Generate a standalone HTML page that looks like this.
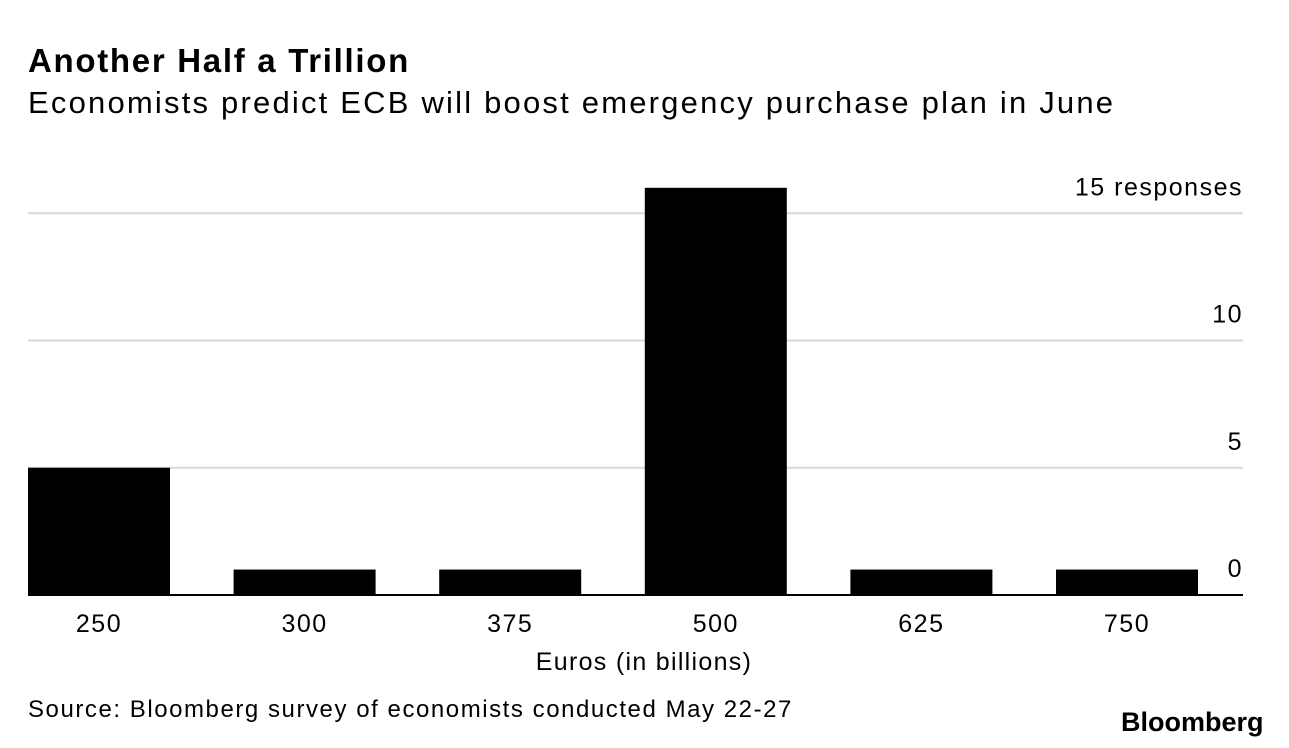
<!DOCTYPE html>
<html><head><meta charset="utf-8"><style>
body{margin:0;background:#fff;font-family:"Liberation Sans",Arial,sans-serif;}
#wrap{position:relative;width:1289px;height:748px;overflow:hidden;}
.t{position:absolute;white-space:nowrap;color:#000;}
</style></head><body>
<div id="wrap">
<div class="t" style="left:28px;top:42px;font-size:33px;font-weight:bold;letter-spacing:1.7px">Another Half a Trillion</div>
<div class="t" style="left:28px;top:85px;font-size:31px;letter-spacing:2.2px">Economists predict ECB will boost emergency purchase plan in June</div>
<svg id="chart" width="1289" height="748" style="position:absolute;left:0;top:0"></svg>
<div class="t" style="left:28px;top:696px;font-size:24px;letter-spacing:1.55px">Source: Bloomberg survey of economists conducted May 22-27</div>
<div class="t" style="left:1121px;top:707px;font-size:27px;font-weight:bold;letter-spacing:0px">Bloomberg</div>
</div>
<script>
const categories=["250","300","375","500","625","750"];
const values=[5,1,1,16,1,1];
const yTicks=[0,5,10,15];
const yTickLabels=["0","5","10","15 responses"];
const NS="http://www.w3.org/2000/svg";
const svg=document.getElementById('chart');
const x0=28,x1=1243,yBase=595,unit=25.45;
const bw=142, step=205.6;
function y(v){return yBase-v*unit;}
function xb(i){return x0+i*step;}
function mk(t,a){const e=document.createElementNS(NS,t);for(const k in a)e.setAttribute(k,a[k]);svg.appendChild(e);return e;}
yTicks.forEach((v,i)=>{
  if(v!==0){const l=mk('line',{x1:x0,x2:x1,y1:y(v),y2:y(v),stroke:'#d9d9d9','stroke-width':2});
  
  }
  const t=mk('text',{x:x1,y:y(v)-18,'text-anchor':'end','font-size':25,'letter-spacing':1.5,'font-family':'Liberation Sans, Arial, sans-serif'});
  t.textContent=yTickLabels[i];
  
  
});
values.forEach((v,i)=>{
  const r=mk('rect',{x:xb(i),y:y(v),width:bw,height:yBase-y(v),fill:'#000'});
  
  
  const t=mk('text',{x:xb(i)+bw/2,y:632,'text-anchor':'middle','font-size':25,'letter-spacing':1.5,'font-family':'Liberation Sans, Arial, sans-serif'});
  t.textContent=categories[i];
  
  
});
const base=mk('line',{x1:x0,x2:x1,y1:yBase,y2:yBase,stroke:'#000','stroke-width':2});


const xt=mk('text',{x:644,y:670,'text-anchor':'middle','font-size':25,'letter-spacing':1.3,'font-family':'Liberation Sans, Arial, sans-serif'});
xt.textContent="Euros (in billions)";


</script>
</body></html>
